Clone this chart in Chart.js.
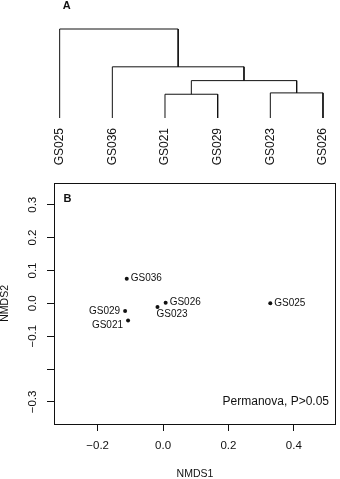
<!DOCTYPE html>
<html>
<head>
<meta charset="utf-8">
<script src="https://cdn.jsdelivr.net/npm/chart.js@4.4.1/dist/chart.umd.min.js"></script>
<style>
  body { margin: 0; background: #fff; }
  #wrap { position: relative; width: 340px; height: 479px; }
  canvas { position: absolute; left: 0; }
  #treeCanvas { top: 0; }
  #nmdsCanvas { top: 170px; }
</style>
</head>
<body>
<div id="wrap">
  <canvas id="treeCanvas" width="340" height="175"></canvas>
  <canvas id="nmdsCanvas" width="340" height="309"></canvas>
</div>
<script>
// dendrogram (panel A), leaves in plotted order
let leaves = ['GS025', 'GS036', 'GS021', 'GS029', 'GS023', 'GS026'];
// hclust style merges: negative = leaf (1-based), positive = earlier merge
let mergeA = [-3, -5, 1, -2, -1];
let mergeB = [-4, -6, 2, 3, 4];
let mergeHeights = [0.267, 0.282, 0.42, 0.575, 1.0];

// NMDS ordination (panel B)
let samples = ['GS036', 'GS026', 'GS025', 'GS023', 'GS029', 'GS021'];
let nmds1 = [-0.111, 0.008, 0.328, -0.017, -0.116, -0.107];
let nmds2 = [0.075, 0.002, 0.0, -0.011, -0.023, -0.052];
let xTicks = [-0.2, 0.0, 0.2, 0.4];
let xTickLabels = ['\u22120.2', '0.0', '0.2', '0.4'];
let yTicks = [-0.3, -0.2, -0.1, 0.0, 0.1, 0.2, 0.3];
let yTickLabels = ['\u22120.3', '', '\u22120.1', '0.0', '0.1', '0.2', '0.3'];
let statText = 'Permanova, P>0.05';

// where each point label sits relative to its point
let labelPlace = ['right', 'right', 'right', 'below', 'left', 'leftBelow'];

const FONT = "'Liberation Sans', Arial, sans-serif";
const INK = '#111';
Chart.defaults.font.family = FONT;
Chart.defaults.color = INK;


function buildTreeDatasets() {
    let pos = [];
    let datasets = [];
    let nodeX = id => id < 0 ? -id - 1 : pos[id - 1];
    let nodeH = id => id < 0 ? 0 : mergeHeights[id - 1];
    for (let i = 0; i < mergeA.length; i++) {
        let a = mergeA[i], b = mergeB[i], h = mergeHeights[i];
        let xa = nodeX(a), xb = nodeX(b);
        pos.push((xa + xb) / 2);
        datasets.push({
            data: [{x: xa, y: nodeH(a)}, {x: xa, y: h}, {x: xb, y: h}, {x: xb, y: nodeH(b)}],
            borderColor: INK,
            borderWidth: 1,
            pointRadius: 0,
            tension: 0,
            clip: false
        });
    }
    return datasets;
}


const panelLetter = {
    id: 'panelLetter',
    afterDraw(chart, args, opts) {
        let ctx = chart.ctx;
        ctx.save();
        ctx.font = `bold 11px ${FONT}`;
        ctx.fillStyle = INK;
        ctx.textAlign = 'center';
        ctx.textBaseline = 'middle';
        ctx.fillText(opts.text, opts.x(chart), opts.y(chart));
        ctx.restore();
    }
};


const boxPlugin = {
    id: 'boxPlugin',
    afterDraw(chart) {
        let {left, top, right, bottom} = chart.chartArea;
        let ctx = chart.ctx;
        ctx.save();
        ctx.strokeStyle = INK;
        ctx.lineWidth = 1;
        ctx.strokeRect(Math.round(left) + 0.5, Math.round(top) + 0.5,
            Math.round(right - left) - 1, Math.round(bottom - top));
        ctx.restore();
    }
};


const yLabelPlugin = {
    id: 'yLabels',
    afterDraw(chart) {
        let ctx = chart.ctx;
        let y = chart.scales.y;
        ctx.save();
        ctx.font = `11.5px ${FONT}`;
        ctx.fillStyle = INK;
        ctx.textAlign = 'center';
        ctx.textBaseline = 'middle';
        yTicks.forEach((v, i) => {
            ctx.save();
            ctx.translate(y.right - 21.5, y.getPixelForValue(v));
            ctx.rotate(-Math.PI / 2);
            ctx.fillText(yTickLabels[i], 0, 0);
            ctx.restore();
        });
        ctx.restore();
    }
};


const pointLabelPlugin = {
    id: 'pointLabels',
    afterDraw(chart) {
        let ctx = chart.ctx;
        let points = chart.getDatasetMeta(0).data;
        ctx.save();
        ctx.font = `10px ${FONT}`;
        ctx.fillStyle = INK;
        ctx.textBaseline = 'middle';
        points.forEach((p, i) => {
            let place = labelPlace[i];
            let dx = 4, dy = 0, align = 'left';
            if (place == 'below') { dx = -1; dy = 7.5; }
            if (place == 'left') { dx = -5; align = 'right'; }
            if (place == 'leftBelow') { dx = -5; dy = 5; align = 'right'; }
            ctx.textAlign = align;
            ctx.fillText(samples[i], p.x + dx, p.y + dy);
        });
        // permanova note in the lower right corner
        let area = chart.chartArea;
        ctx.font = `12px ${FONT}`;
        ctx.textAlign = 'right';
        ctx.fillText(statText, area.right - 7, chart.scales.y.getPixelForValue(-0.3));
        ctx.restore();
    }
};


function showTree() {
    let ctx = document.getElementById('treeCanvas').getContext('2d');
    new Chart(ctx, {
        type: 'line',
        data: { datasets: buildTreeDatasets() },
        options: {
            responsive: false,
            animation: false,
            layout: { padding: { top: 29, left: 0, right: 0, bottom: 0 } },
            plugins: {
                legend: { display: false },
                tooltip: { enabled: false },
                panelLetter: { text: 'A', x: () => 66.8, y: () => 6.3 }
            },
            scales: {
                x: {
                    type: 'linear',
                    min: -1.133,
                    max: 5.323,
                    grid: { display: false, drawTicks: false },
                    border: { display: false },
                    afterBuildTicks: s => { s.ticks = leaves.map((_, i) => ({ value: i })); },
                    afterFit: s => {
                        s.height = 57;
                        s.paddingLeft = 0;
                        s.paddingRight = 0;
                    },
                    ticks: {
                        autoSkip: false,
                        minRotation: 90,
                        maxRotation: 90,
                        padding: 10,
                        font: { size: 12 },
                        callback: v => leaves[v]
                    }
                },
                y: { display: false, min: 0, max: 1 }
            }
        },
        plugins: [panelLetter]
    });
}


function showNmds() {
    let ctx = document.getElementById('nmdsCanvas').getContext('2d');
    let tickGrid = { display: true, drawOnChartArea: false, drawTicks: true, tickLength: 7, color: INK, lineWidth: 1 };
    new Chart(ctx, {
        type: 'scatter',
        data: {
            datasets: [{
                data: samples.map((s, i) => ({ x: nmds1[i], y: nmds2[i] })),
                pointRadius: 2,
                pointBackgroundColor: INK,
                pointBorderWidth: 0
            }]
        },
        options: {
            responsive: false,
            animation: false,
            layout: { padding: { top: 12.7, right: 1.3, left: 0, bottom: 0 } },
            plugins: {
                legend: { display: false },
                tooltip: { enabled: false },
                panelLetter: { text: 'B', x: c => c.chartArea.left + 13.5, y: c => c.chartArea.top + 16.5 }
            },
            scales: {
                x: {
                    type: 'linear',
                    min: -0.3335,
                    max: 0.529,
                    grid: tickGrid,
                    border: { display: false },
                    afterBuildTicks: s => { s.ticks = xTicks.map(v => ({ value: v })); },
                    afterFit: s => { s.height = 55; },
                    ticks: { padding: 8, font: { size: 11.5 }, callback: (v, i) => xTickLabels[i] },
                    title: { display: true, text: 'NMDS1', font: { size: 10.5, lineHeight: 1 }, padding: 0 }
                },
                y: {
                    type: 'linear',
                    min: -0.367,
                    max: 0.367,
                    grid: tickGrid,
                    border: { display: false },
                    afterBuildTicks: s => { s.ticks = yTicks.map(v => ({ value: v })); },
                    afterFit: s => { s.width = 54; },
                    ticks: { display: false },
                    title: { display: true, text: 'NMDS2', font: { size: 10.5, lineHeight: 1 }, padding: 0 }
                }
            }
        },
        plugins: [boxPlugin, yLabelPlugin, pointLabelPlugin, panelLetter]
    });
}


showTree();
showNmds();
</script>
</body>
</html>
